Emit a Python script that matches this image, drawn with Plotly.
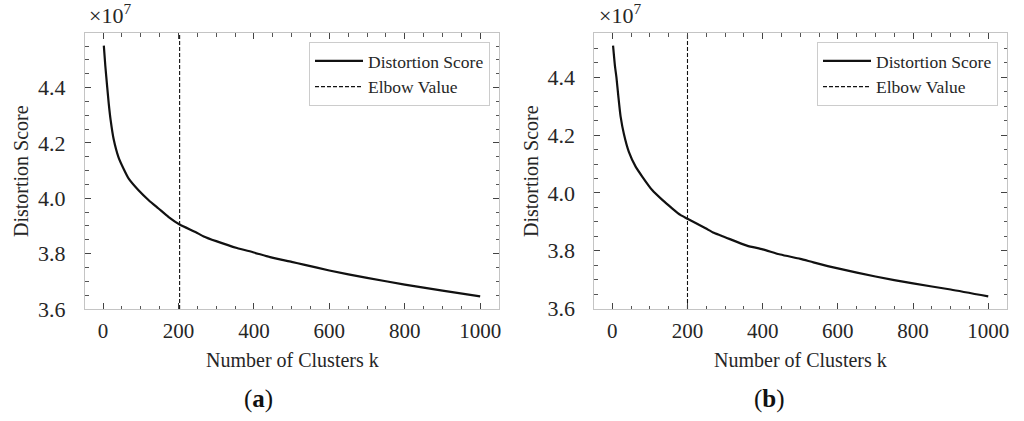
import plotly.graph_objects as go

# ---- data (values in units of 1e7) ----
k_a = [2, 6, 11, 15, 20, 28, 41, 55, 68, 94, 121, 147, 174, 203, 245, 267, 300,
       355, 400, 443, 500, 532, 600, 700, 800, 900, 1000]
score_a = [4.552, 4.478, 4.402, 4.343, 4.283, 4.214, 4.148, 4.105, 4.071, 4.029,
           3.993, 3.963, 3.932, 3.905, 3.878, 3.862, 3.845, 3.820, 3.804, 3.787,
           3.770, 3.760, 3.739, 3.712, 3.688, 3.666, 3.645]
elbow_a = 203

k_b = [2, 7, 11, 16, 22, 31, 44, 62, 80, 106, 133, 159, 181, 200, 248, 270, 300,
       358, 400, 447, 500, 535, 600, 700, 800, 900, 1000]
score_b = [4.510, 4.440, 4.400, 4.335, 4.265, 4.203, 4.142, 4.091, 4.056, 4.010,
           3.976, 3.947, 3.924, 3.911, 3.878, 3.862, 3.847, 3.818, 3.805, 3.787,
           3.772, 3.760, 3.739, 3.711, 3.687, 3.666, 3.642]
elbow_b = 200

x_ticks = [0, 200, 400, 600, 800, 1000]
y_ticks = [3.6, 3.8, 4.0, 4.2, 4.4]
y_tick_text = ["3.6", "3.8", "4.0", "4.2", "4.4"]

FONT = "Liberation Serif"
W, H = 1024, 421
TXT = "#262626"


def mpl_range(vals):
    lo, hi = min(vals), max(vals)
    m = 0.05 * (hi - lo)
    return [lo - m, hi + m]


xr_a = mpl_range(k_a)
yr_a = mpl_range(score_a)
xr_b = mpl_range(k_b)
yr_b = mpl_range(score_b)

fig = go.Figure()

main_line = dict(color="#111111", width=2.2, shape="spline", smoothing=0.6)
elbow_line = dict(color="#111111", width=1.1, dash="4px,2px")

fig.add_trace(go.Scatter(x=k_a, y=score_a, mode="lines", name="Distortion Score",
                         line=main_line, xaxis="x", yaxis="y", legend="legend"))
fig.add_trace(go.Scatter(x=[elbow_a, elbow_a], y=yr_a, mode="lines", name="Elbow Value",
                         line=elbow_line, xaxis="x", yaxis="y", legend="legend"))
fig.add_trace(go.Scatter(x=k_b, y=score_b, mode="lines", name="Distortion Score",
                         line=main_line, xaxis="x2", yaxis="y2", legend="legend2"))
fig.add_trace(go.Scatter(x=[elbow_b, elbow_b], y=yr_b, mode="lines", name="Elbow Value",
                         line=elbow_line, xaxis="x2", yaxis="y2", legend="legend2"))


def xax(domain, rng, anchor):
    return dict(domain=domain, range=rng, anchor=anchor, automargin=False,
                tickvals=x_ticks, ticks="inside", ticklen=6, tickwidth=1,
                tickcolor="#444444", showline=True, linecolor="#c4c4c4",
                linewidth=1, mirror="allticks", showgrid=False, zeroline=False,
                tickfont=dict(family=FONT, size=21, color=TXT),
                ticklabelstandoff=3,
                minor=dict(dtick=50, tick0=0, ticks="inside", ticklen=3.5,
                           tickcolor="#555555", tickwidth=1, showgrid=False))


def yax(domain, rng, anchor):
    return dict(domain=domain, range=rng, anchor=anchor, automargin=False,
                tickvals=y_ticks, ticktext=y_tick_text, ticks="inside", ticklen=6,
                tickwidth=1, tickcolor="#444444", showline=True,
                linecolor="#c4c4c4", linewidth=1, mirror="allticks",
                showgrid=False, zeroline=False,
                tickfont=dict(family=FONT, size=22, color=TXT),
                ticklabelstandoff=14,
                minor=dict(dtick=0.05, tick0=3.6, ticks="inside", ticklen=3.5,
                           tickcolor="#555555", tickwidth=1, showgrid=False))


ydom = [(H - 309) / H, (H - 33) / H]
leg_common = dict(yanchor="top", xanchor="right", bordercolor="#cccccc",
                  borderwidth=1, bgcolor="white",
                  font=dict(family=FONT, size=17.5, color=TXT), itemwidth=48,
                  tracegroupgap=0)
fig.update_layout(
    width=W, height=H,
    margin=dict(l=0, r=0, t=0, b=0, autoexpand=False),
    paper_bgcolor="white", plot_bgcolor="white",
    font=dict(family=FONT, color=TXT),
    xaxis=xax([85 / W, 499 / W], xr_a, "y"),
    yaxis=yax(ydom, yr_a, "x"),
    xaxis2=xax([594.3 / W, 1007 / W], xr_b, "y2"),
    yaxis2=yax(ydom, yr_b, "x2"),
    legend=dict(x=490 / W, y=(H - 42) / H, **leg_common),
    legend2=dict(x=998 / W, y=(H - 42) / H, **leg_common),
)

annos = []
for cx, ytx, mx, lab, labx in [(292, 21, 87, "a", 258), (800.6, 531, 596.7, "b", 769)]:
    annos.append(dict(x=cx / W, y=(H - 360) / H, xref="paper", yref="paper",
                      text="Number of Clusters k", showarrow=False,
                      font=dict(family=FONT, size=20, color=TXT),
                      xanchor="center", yanchor="middle"))
    annos.append(dict(x=ytx / W, y=(H - 171) / H, xref="paper", yref="paper",
                      text="Distortion Score", showarrow=False, textangle=-90,
                      font=dict(family=FONT, size=20, color=TXT),
                      xanchor="center", yanchor="middle"))
    annos.append(dict(x=mx / W, y=(H - 30) / H, xref="paper", yref="paper",
                      text="×10<sup>7</sup>", showarrow=False,
                      font=dict(family=FONT, size=22, color=TXT),
                      xanchor="left", yanchor="bottom"))
    annos.append(dict(x=labx / W, y=(H - 399) / H, xref="paper", yref="paper",
                      text="(<b>" + lab + "</b>)", showarrow=False,
                      font=dict(family=FONT, size=25, color="#111111"),
                      xanchor="center", yanchor="middle"))
fig.update_layout(annotations=annos)

fig.write_html("out.html",
               config={"displayModeBar": False},
               post_script="document.body.style.margin='0';"
                           "document.body.style.overflow='hidden';")
